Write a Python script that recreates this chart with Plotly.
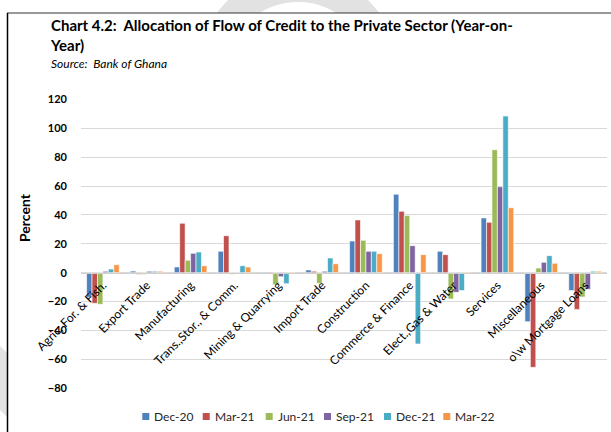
import plotly.graph_objects as go

# Sector categories (x axis)
sectors = [
    "Agric, For. & Fish.", "Export Trade", "Manufacturing", "Trans.,Stor., & Comm.",
    "Mining & Quarrying", "Import Trade", "Construction", "Commerce & Finance",
    "Elect.,Gas & Water", "Services", "Miscellaneous", "o\\w Mortgage Loans",
]

# Year-on-year growth in flow of credit (percent), by period
dec_20 = [-17.0, 1.1, 4.0, 14.8, 0.5, 1.9, 21.9, 54.3, 14.8, 37.9, -33.9, -12.4]
mar_21 = [-21.2, -1.0, 34.2, 25.6, 0.5, 1.0, 36.5, 42.5, 12.5, 34.9, -65.5, -25.4]
jun_21 = [-21.9, -1.0, 8.6, -1.1, -8.3, -7.4, 22.4, 39.5, -18.2, 85.1, 3.2, -16.8]
sep_21 = [1.0, 1.0, 13.4, 0.3, -2.8, 1.0, 14.8, 18.7, -13.6, 59.5, 7.2, -11.5]
dec_21 = [2.5, 1.0, 14.3, 4.8, -7.6, 10.2, 14.8, -49.3, -12.4, 108.4, 11.8, 1.0]
mar_22 = [5.5, 1.0, 4.8, 3.9, 0.5, 6.2, 13.2, 12.5, 0.5, 45.0, 6.5, 1.0]

periods = ["Dec-20", "Mar-21", "Jun-21", "Sep-21", "Dec-21", "Mar-22"]
series = [dec_20, mar_21, jun_21, sep_21, dec_21, mar_22]
colors = ["#4F81BD", "#C0504D", "#9BBB59", "#8064A2", "#4BACC6", "#F79646"]

y_ticks = [-80, -60, -40, -20, 0, 20, 40, 60, 80, 100, 120]

W, H = 611, 432
FONT = "Lato"


def px(x):
    return x / W


def py(y):
    return 1 - y / H


fig = go.Figure()
for name, vals, col in zip(periods, series, colors):
    fig.add_trace(go.Bar(
        x=sectors, y=vals, name=name,
        marker=dict(color=col, line=dict(color="white", width=0.6)),
        showlegend=False,
    ))

# plot area in pixels
px_left, px_right = 81, 607
px_top, px_bottom = 99.3, 388.3
y_dom = [py(px_bottom), py(px_top)]
y_min, y_max = y_ticks[0], y_ticks[-1]
zero_pos = y_dom[0] + (0 - y_min) / (y_max - y_min) * (y_dom[1] - y_dom[0])

fig.update_layout(
    width=W, height=H,
    margin=dict(l=0, r=0, t=0, b=0),
    paper_bgcolor="white", plot_bgcolor="white",
    barmode="group", bargap=0.255, bargroupgap=0,
    font=dict(family=FONT, color="#000000"),
    xaxis=dict(
        domain=[px(px_left), px(px_right)],
        anchor="free", position=zero_pos,
        automargin=False,
        showline=True, linecolor="#d0d0d0", linewidth=1,
        showgrid=False, ticks="",
        tickangle=-45,
        tickfont=dict(family=FONT, size=12, color="#000000"),
    ),
    yaxis=dict(
        domain=y_dom,
        range=[y_min, y_max],
        tickvals=y_ticks,
        automargin=False,
        showgrid=True, gridcolor="#d9d9d9", gridwidth=1.3,
        zeroline=False, showline=False, ticks="",
        ticklabelstandoff=13,
        tickfont=dict(family=FONT, size=11, color="#000000", weight="bold"),
    ),
)

# faint background ring of the page, hidden by the white exhibit box
ring_c, ring_r = (298, 73), 86
fig.add_shape(type="circle", xref="paper", yref="paper", layer="below",
              x0=px(ring_c[0] - ring_r), x1=px(ring_c[0] + ring_r),
              y0=py(ring_c[1] + ring_r), y1=py(ring_c[1] - ring_r),
              line=dict(color="#e2e2e2", width=30))
fig.add_shape(type="path", xref="paper", yref="paper", layer="below",
              path=f"M {px(0)},{py(346)} L {px(8)},{py(354)} L {px(8)},{py(418)} "
                   f"L {px(0)},{py(410)} Z",
              fillcolor="#e2e2e2", line=dict(width=0))
fig.add_shape(type="rect", xref="paper", yref="paper", layer="below",
              x0=px(7), x1=1.0, y0=0, y1=py(13),
              fillcolor="white", line=dict(width=0))

# frame lines of the exhibit box
fig.add_shape(type="line", xref="paper", yref="paper",
              x0=px(7), x1=1.0, y0=py(13), y1=py(13),
              line=dict(color="#333333", width=1.2))
fig.add_shape(type="line", xref="paper", yref="paper",
              x0=px(7.5), x1=px(7.5), y0=0, y1=py(13),
              line=dict(color="#000000", width=1.5))

# title and source
fig.add_annotation(
    xref="paper", yref="paper", x=px(48), y=py(14),
    xanchor="left", yanchor="top", align="left", showarrow=False,
    text="<b>Chart 4.2:  Allocation of Flow of Credit to the Private Sector (Year-on-<br>Year)</b>",
    font=dict(family=FONT, size=15, color="#000000"),
)
fig.add_annotation(
    xref="paper", yref="paper", x=px(49), y=py(63),
    xanchor="left", yanchor="middle", showarrow=False,
    text="<i>Source:  Bank of Ghana</i>",
    font=dict(family=FONT, size=12, color="#000000"),
)

# y-axis title
fig.add_annotation(
    xref="paper", yref="paper", x=px(24), y=py(218),
    xanchor="center", yanchor="middle", showarrow=False, textangle=-90,
    text="<b>Percent</b>",
    font=dict(family=FONT, size=14, color="#000000"),
)

# legend row
legend_x = [142.3, 202.7, 265.7, 324.0, 384.0, 443.3]
legend_y = 416.5
sq = 7
for lx, name, col in zip(legend_x, periods, colors):
    fig.add_shape(type="rect", xref="paper", yref="paper",
                  x0=px(lx), x1=px(lx + sq),
                  y0=py(legend_y + sq / 2), y1=py(legend_y - sq / 2),
                  fillcolor=col, line=dict(width=0))
    fig.add_annotation(
        xref="paper", yref="paper", x=px(lx + sq + 3), y=py(legend_y),
        xanchor="left", yanchor="middle", showarrow=False,
        text=name, font=dict(family=FONT, size=12, color="#262626"),
    )

fig.write_html("out.html")
